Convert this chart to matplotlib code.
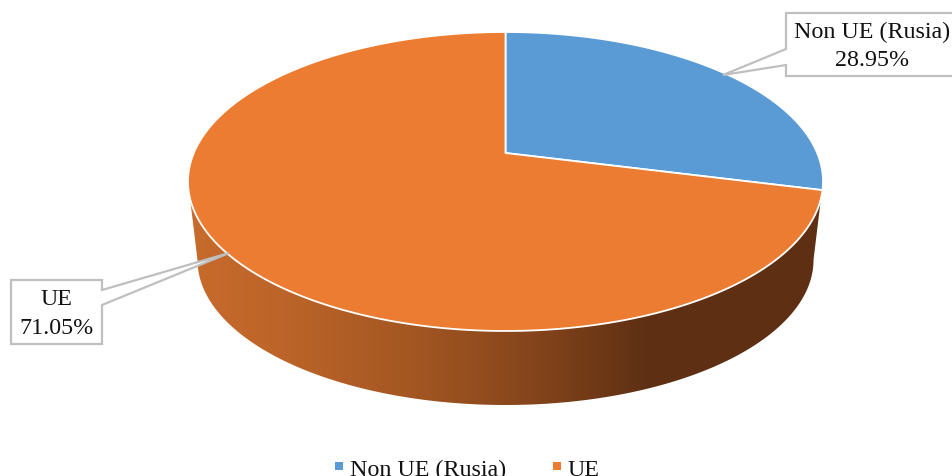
import numpy as np
import matplotlib
matplotlib.use('Agg')
import matplotlib.pyplot as plt
from matplotlib.colors import LinearSegmentedColormap
from matplotlib.patches import Polygon

plt.rcParams['font.family'] = ['Liberation Serif', 'DejaVu Sans']

labels = ['Non UE (Rusia)', 'UE']
values = [28.95, 71.05]
colors = ['#5B9BD5', '#EB7C31']
side_stops = [(0.0, '#C86B2C'), (0.15, '#BC6429'), (0.35, '#A45722'),
              (0.55, '#84441B'), (0.72, '#5F3014'), (1.0, '#5E2F13')]
FONT = 17.3


# the top of the pie is a circle seen in perspective
def project(angle):
    u = np.sin(angle)
    v = np.cos(angle)
    w = 1 + 0.1906 * v
    return 505.5 + 311.7 * u / w, (153 - 114.9 * v) / w


def wedge(start, stop):
    a = np.linspace(start, stop, 300)
    x, y = project(a)
    return np.column_stack([np.r_[505.5, x], np.r_[153, y]])


def callout(ax, pts, lines, cx, y1, y2):
    ax.add_patch(Polygon(pts, closed=True, fc='white', ec='#BFBFBF', lw=1.6, zorder=5))
    ax.text(cx, y1, lines[0], ha='center', va='center', fontsize=FONT, color='#111111', zorder=6)
    ax.text(cx, y2, lines[1], ha='center', va='center', fontsize=FONT, color='#111111', zorder=6)


fig = plt.figure(figsize=(9.53, 4.77), dpi=100)
ax = fig.add_axes([0, 0, 1, 1])

# side wall with horizontal gradient
t = np.linspace(np.pi, 0, 300)
low_x = 505.5 + 308 * np.cos(t)
low_y = 260 + 145 * np.sin(t)
top_t = np.linspace(0, np.pi, 300)
top_x = 505.5 + 317.5 * np.cos(top_t)
top_y = 181.5 + 149.5 * np.sin(top_t)
side = Polygon(np.column_stack([np.r_[low_x, top_x], np.r_[low_y, top_y]]), closed=True,
               fc='none', ec='none')
ax.add_patch(side)
cmap = LinearSegmentedColormap.from_list('side', side_stops)
im = ax.imshow(np.linspace(0, 1, 256).reshape(1, -1), cmap=cmap, aspect='auto',
               extent=[188, 823, 405, 181], zorder=1)
im.set_clip_path(side)

ax.set_xlim(0, 953)
ax.set_ylim(476, -1)
ax.axis('off')

# top slices
start = 0.0
for val, col in zip(values, colors):
    stop = start + val / sum(values) * 2 * np.pi
    ax.add_patch(Polygon(wedge(start, stop), closed=True, fc=col, ec='white', lw=1.3,
                         joinstyle='round', zorder=2))
    start = stop

right_box = [(786, 13), (960, 13), (960, 76), (786, 76), (786, 65), (723, 75), (786, 49)]
left_box = [(11, 280), (102, 280), (102, 290), (229, 253), (102, 305), (102, 344), (11, 344)]
callout(ax, right_box, (labels[0], '%.2f%%' % values[0]), 872, 31, 60)
callout(ax, left_box, (labels[1], '%.2f%%' % values[1]), 57, 299, 328)

# legend sits right on the lower edge, as in the original
ax.scatter([339, 557], [466, 466], marker='s', s=36, c=colors, linewidths=0, zorder=5)
ax.text(350, 475, labels[0], ha='left', va='baseline', fontsize=FONT, color='#111111')
ax.text(568, 475, labels[1], ha='left', va='baseline', fontsize=FONT, color='#111111')

fig.savefig('out.png', dpi=100)
